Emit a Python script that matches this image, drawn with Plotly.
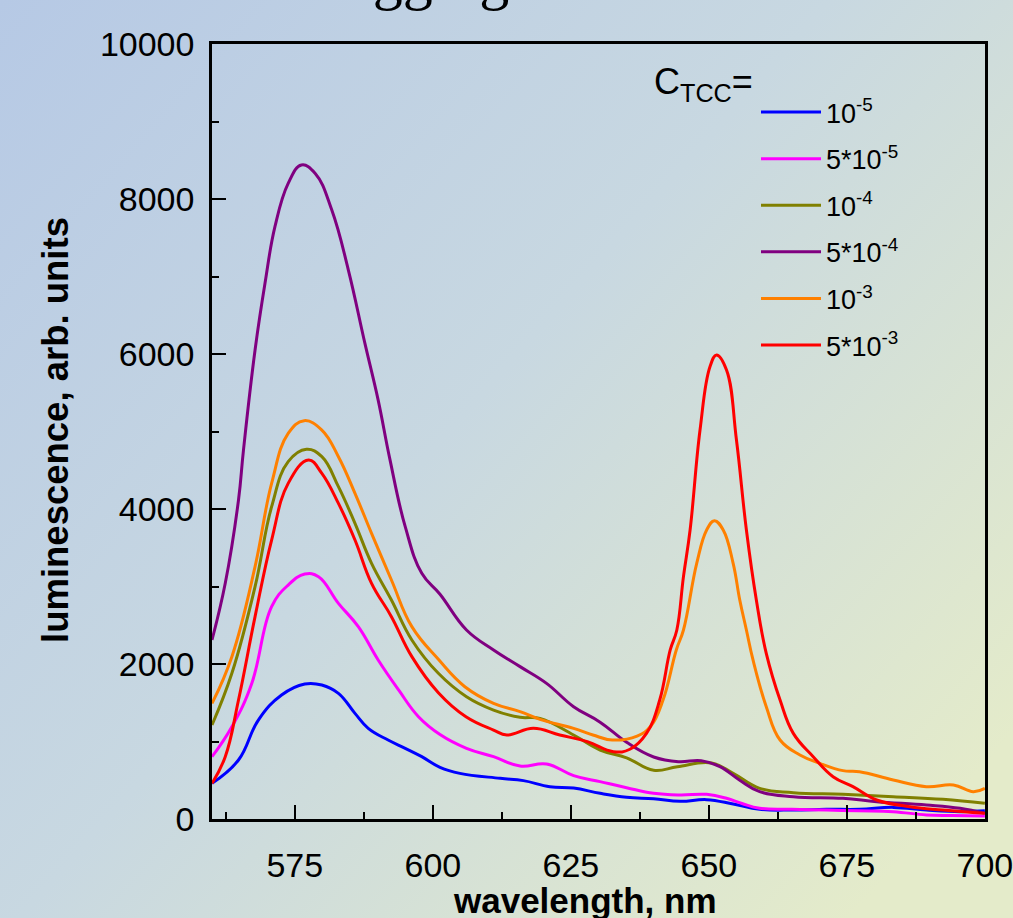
import base64
import plotly.graph_objects as go

# ---------------- data ----------------
wl_blue = [560, 564.8, 568.4, 572.6, 576.8, 579.9, 582.9, 585.9, 588.3, 591.9, 595, 598, 601.3, 604.9,
           612.2, 616.4, 621.2, 625.5, 630.3, 635.1, 640, 644.8, 649.6, 654.4, 659.2, 665.3, 671.3,
           677.3, 683.4, 689.4, 695.5, 700]
lum_blue = [460, 761, 1277, 1600, 1742, 1729, 1621, 1363, 1170, 1019, 912, 804, 667, 589,
            525, 495, 417, 400, 331, 280, 262, 228, 250, 194, 125, 116, 125,
            125, 150, 116, 95, 105]

wl_magenta = [560, 563.6, 567.2, 570.8, 573.8, 576.8, 579.3, 582.9, 586.5, 590.1, 593.8, 597.4, 601.3,
              606.1, 611, 615.8, 620.6, 625.5, 630.3, 635.1, 640, 644.8, 649.6, 653.2, 656, 659.2,
              665, 671.3, 677, 683.4, 689.4, 694, 700]
lum_magenta = [804, 1191, 1750, 2740, 3019, 3161, 3127, 2783, 2482, 2052, 1665, 1320, 1090,
               912, 804, 684, 710, 560, 482, 404, 331, 310, 318, 267, 200, 138,
               125, 116, 105, 95, 52, 45, 39]

wl_olive = [560, 563.6, 567.8, 570.8, 573.8, 577.1, 579.9, 582.9, 585.9, 588.9, 592.5, 596.2, 601,
            606.1, 611, 615.8, 619.4, 625.5, 630.3, 635.1, 640, 644.3, 650.5, 654.4, 659.2, 665.3,
            674.3, 683.4, 692.4, 700]
lum_olive = [1213, 1880, 2998, 4030, 4611, 4770, 4675, 4288, 3815, 3299, 2826, 2310, 1880,
             1578, 1406, 1312, 1299, 1084, 890, 790, 628, 675, 722, 589, 396, 340,
             318, 288, 254, 202]

wl_purple = [560, 562.4, 564.8, 565.7, 567.8, 569.6, 571.4, 573.8, 576.2, 578.7, 581.7, 584.7, 587.7,
             590.1, 592.2, 595, 598, 601.3, 606.1, 611, 615.8, 620.6, 625.5, 630.3, 635.1, 640,
             644.5, 648.6, 652, 655.6, 659.2, 665.3, 674.3, 680.4, 689.4, 695.5, 700]
lum_purple = [2310, 3041, 4116, 4761, 6051, 6912, 7643, 8202, 8439, 8331, 7858, 7084, 6137,
              5406, 4650, 3772, 3170, 2900, 2439, 2181, 1966, 1750, 1449, 1250, 990, 800,
              740, 753, 675, 500, 353, 288, 267, 224, 181, 138, 73]

wl_orange = [560, 563.6, 567.8, 570.8, 573.8, 576.7, 579.9, 582.9, 585.9, 588.9, 592.5, 596.2, 601,
             605.8, 611, 615.8, 619.4, 625.5, 629, 632.5, 637, 639.5, 641.7, 644.1, 645.4, 647.8,
             649.6, 651, 652.6, 654.4, 655.6, 656.8, 658, 660.4, 662.9, 666.5, 670.1, 674.3, 677.3,
             683.4, 689.4, 694.3, 697.9, 700]
lum_orange = [1492, 2095, 3256, 4331, 4976, 5140, 5019, 4675, 4202, 3686, 3084, 2482, 2060,
              1707, 1492, 1385, 1286, 1170, 1084, 1019, 1070, 1200, 1535, 2181, 2439, 3299,
              3729, 3849, 3729, 3299, 2826, 2439, 2052, 1449, 1019, 826, 718, 624, 611,
              503, 417, 439, 353, 396]

wl_red = [560, 562.4, 564.8, 567.8, 570.8, 573.8, 577.5, 579.9, 582.9, 585.9, 588.9, 592.5, 596.2,
          601, 606, 611, 613.4, 618.2, 623, 628, 632.7, 635.7, 638.7, 641.1, 643, 644.2, 645.4,
          646.6, 648.4, 650.2, 651.4, 653.2, 655, 656.8, 658.6, 660.4, 662.9, 665.3, 668.9, 672.5,
          676.1, 680.4, 686.4, 692.4, 700]
lum_red = [460, 804, 1535, 2611, 3600, 4331, 4632, 4460, 4073, 3600, 3041, 2611, 2095,
           1630, 1320, 1148, 1084, 1170, 1084, 998, 869, 900, 1105, 1535, 2181, 2439, 3127,
           3729, 5019, 5836, 5987, 5793, 4890, 3729, 2826, 2138, 1535, 1105, 804, 546,
           417, 245, 159, 116, 73]

series_names = ["10<sup>-5</sup>", "5*10<sup>-5</sup>", "10<sup>-4</sup>",
                "5*10<sup>-4</sup>", "10<sup>-3</sup>", "5*10<sup>-3</sup>"]
series_colors = ["#0000ff", "#ff00ff", "#808000", "#800080", "#ff8000", "#ff0000"]
series_x = [wl_blue, wl_magenta, wl_olive, wl_purple, wl_orange, wl_red]
series_y = [lum_blue, lum_magenta, lum_olive, lum_purple, lum_orange, lum_red]

x_ticks = [575, 600, 625, 650, 675, 700]
y_ticks = [0, 2000, 4000, 6000, 8000, 10000]

# ---------------- figure ----------------
W, H = 1013, 918
L, R, T, B = 212, 28, 44, 99
PW, PH = W - L - R, H - T - B

fig = go.Figure()
for i, (xs, ys) in enumerate(zip(series_x, series_y)):
    fig.add_trace(go.Scatter(
        x=xs, y=ys, mode="lines", name=series_names[i], legendgroup=f"g{i}",
        line=dict(color=series_colors[i], width=3, shape="spline", smoothing=1.2),
    ))

svg = (f"<svg xmlns='http://www.w3.org/2000/svg' width='{W}' height='{H}'>"
       "<defs><linearGradient id='g' x1='0' y1='0' x2='1' y2='0.8'>"
       "<stop offset='0' stop-color='#b6c9e5'/>"
       "<stop offset='0.5' stop-color='#c8d8e1'/>"
       "<stop offset='1' stop-color='#e4ebca'/>"
       "</linearGradient></defs>"
       f"<rect width='{W}' height='{H}' fill='url(#g)'/></svg>")
src = "data:image/svg+xml;base64," + base64.b64encode(svg.encode()).decode()

fig.add_layout_image(dict(
    source=src, xref="paper", yref="paper", x=-L / PW, y=1 + T / PH,
    sizex=W / PW, sizey=H / PH, sizing="stretch", xanchor="left", yanchor="top",
    layer="below",
))

def px2x(px):
    return (px - L) / PW

def py2y(py):
    return (H - B - py) / PH

axis_common = dict(
    showline=True, linecolor="black", linewidth=2.5, mirror=True,
    ticks="inside", tickcolor="black", tickwidth=2, ticklen=14,
    showgrid=False, zeroline=False, ticklabeloverflow="allow",
    tickfont=dict(family="Liberation Sans, Arial", size=34, color="black"),
)

fig.update_xaxes(range=[560, 700.02], tickvals=x_ticks, ticklabelstandoff=14,
                 minor=dict(dtick=12.5, tick0=0, ticks="inside", ticklen=7, tickcolor="black", tickwidth=2),
                 **axis_common)
fig.update_yaxes(range=[0, 10000.5], tickvals=y_ticks, tickformat="d", ticklabelstandoff=8,
                 minor=dict(dtick=1000, tick0=0, ticks="inside", ticklen=7, tickcolor="black", tickwidth=2),
                 **axis_common)

annotations = [
    dict(text="<b>luminescence, arb. units</b>", textangle=-90, x=px2x(55), y=py2y(430),
         xref="paper", yref="paper", showarrow=False, xanchor="center", yanchor="middle",
         font=dict(family="Liberation Sans, Arial", size=36.5, color="black")),
    dict(text="<b>wavelength, nm</b>", x=px2x(585), y=py2y(900),
         xref="paper", yref="paper", showarrow=False, xanchor="center", yanchor="middle",
         font=dict(family="Liberation Sans, Arial", size=35, color="black")),
    dict(text="C<sub>TCC</sub>=", x=px2x(652), y=py2y(84),
         xref="paper", yref="paper", showarrow=False, xanchor="left", yanchor="middle",
         font=dict(family="Liberation Sans, Arial", size=36, color="black")),
    dict(text="aggregation", x=px2x(344), y=py2y(-22),
         xref="paper", yref="paper", showarrow=False, xanchor="left", yanchor="middle",
         font=dict(family="Liberation Serif, Times New Roman", size=60, color="black")),
]

fig.update_layout(
    width=W, height=H,
    margin=dict(l=L, r=R, t=T, b=B, autoexpand=False),
    paper_bgcolor="#c9d8e0", plot_bgcolor="rgba(0,0,0,0)",
    annotations=annotations,
    showlegend=True,
    legend=dict(x=px2x(756), y=py2y(88), xanchor="left", yanchor="top",
                bgcolor="rgba(0,0,0,0)", borderwidth=0,
                font=dict(family="Liberation Sans, Arial", size=27, color="black"),
                itemwidth=60, tracegroupgap=8.5),
)

fig.write_html("out.html")
